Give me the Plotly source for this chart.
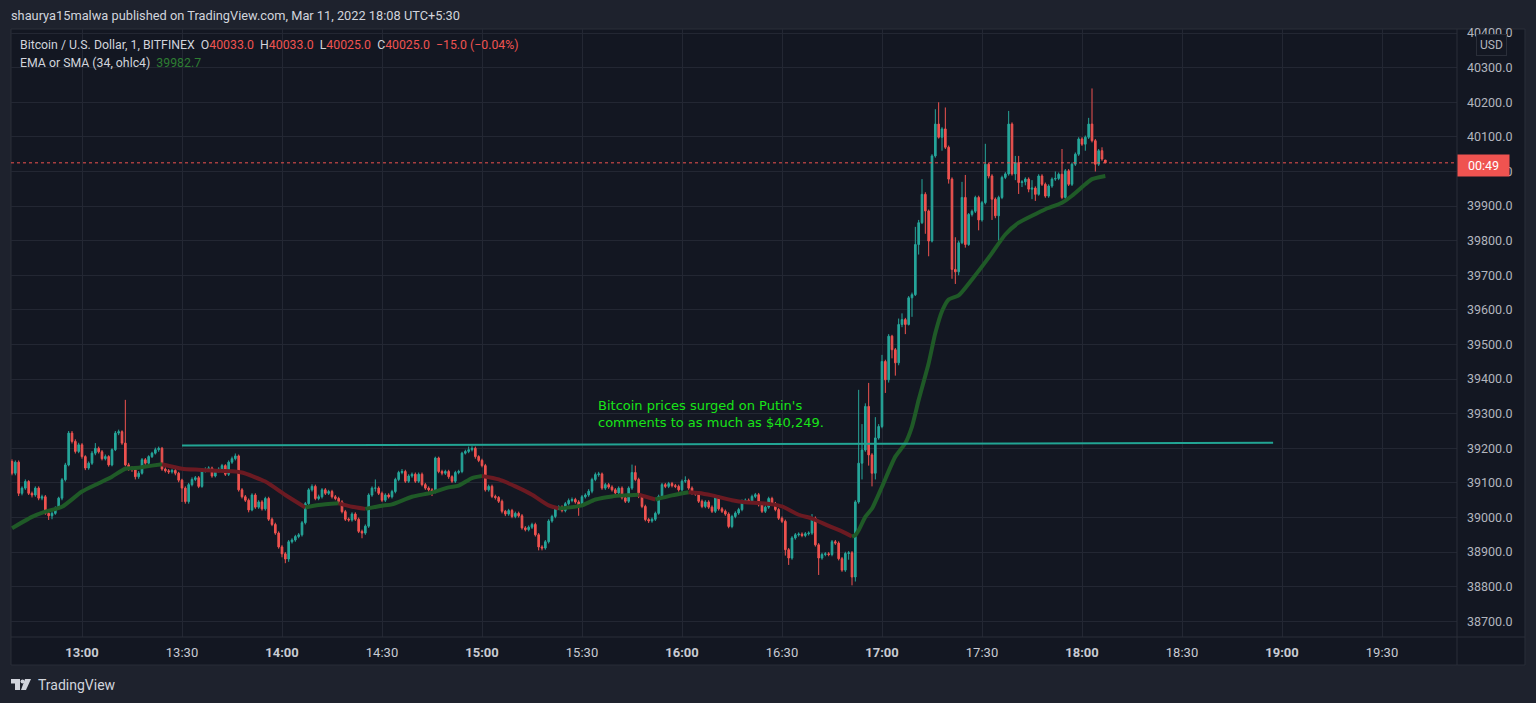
import pandas as pd
import plotly.graph_objects as go

# ---------------- DATA ----------------
start_time = "2022-03-11 12:39"

opens = [
    39162, 39128, 39160, 39070, 39085, 39104, 39070, 39065, 39085, 39056,
    39060, 39012, 39005, 39012, 39027, 39056, 39109, 39152, 39244, 39220,
    39191, 39210, 39176, 39143, 39157, 39186, 39200, 39190, 39170, 39176,
    39152, 39196, 39244, 39248, 39215, 39152, 39143, 39138, 39118, 39128,
    39167, 39157, 39176, 39186, 39196, 39200, 39140, 39135, 39132, 39136,
    39128, 39108, 39085, 39046, 39095, 39110, 39115, 39090, 39135, 39140,
    39143, 39120, 39135, 39140, 39150, 39125, 39160, 39170, 39178, 39080,
    39060, 39050, 39022, 39065, 39030, 39045, 39025, 39055, 38995, 38980,
    38955, 38915, 38895, 38880, 38930, 38935, 38945, 38950, 38985, 39040,
    39080, 39090, 39055, 39060, 39080, 39070, 39075, 39060, 39055, 39045,
    39017, 38995, 38993, 39010, 38995, 38960, 38955, 38975, 39065, 39085,
    39085, 39070, 39050, 39065, 39060, 39075, 39110, 39130, 39133, 39105,
    39120, 39125, 39105, 39125, 39095, 39085, 39080, 39075, 39172, 39133,
    39128, 39133, 39118, 39105, 39130, 39133, 39186, 39191, 39196, 39200,
    39176, 39165, 39150, 39080, 39090, 39061, 39058, 39047, 39018, 39010,
    39020, 39003, 39012, 39005, 38970, 38965, 38972, 38980, 38950, 38915,
    38912, 38930, 38990, 39003, 39028, 39030, 39020, 39040, 39049, 39052,
    39045, 39035, 39060, 39065, 39076, 39110, 39124, 39126, 39085, 39095,
    39088, 39080, 39071, 39085, 39057, 39047, 39085, 39130, 39110, 39061,
    39032, 38994, 38990, 38995, 39012, 39061, 39095, 39090, 39098, 39092,
    39090, 39080, 39105, 39107, 39085, 39071, 39068, 39047, 39032, 39045,
    39030, 39018, 39060, 39025, 39018, 39010, 38974, 39003, 39013, 39023,
    39047, 39050, 39045, 39061, 39066, 39037, 39018, 39030, 39055, 39040,
    39023, 38998, 38989, 38907, 38883, 38941, 38950, 38952, 38948, 38953,
    38955, 38998, 38921, 38883, 38893, 38895, 38893, 38930, 38926, 38881,
    38848, 38896, 38898, 38828, 39045, 39157, 39195, 39321, 39181, 39128,
    39230, 39263, 39451, 39398, 39524, 39485, 39447, 39558, 39572, 39558,
    39635, 39644, 39789, 39852, 39934, 39886, 39799, 40045, 40137, 40099,
    40123, 40070, 39978, 39717, 39710, 39794, 39925, 39789, 39876, 39885,
    39925, 39860, 39910, 40021, 39987, 39920, 39872, 39925, 39983, 39993,
    40137, 39993, 40026, 39968, 39970, 39978, 39949, 39952, 39934, 39987,
    39963, 39929, 39958, 39978, 39980, 39992, 39925, 40002, 39963, 40021,
    40050, 40094, 40079, 40099, 40137, 40089, 40021, 40060, 40033,
]

highs = [
    39168, 39165, 39165, 39090, 39110, 39108, 39075, 39090, 39090, 39066,
    39065, 39018, 39018, 39032, 39060, 39114, 39158, 39250, 39250, 39226,
    39216, 39215, 39180, 39162, 39192, 39215, 39205, 39195, 39182, 39180,
    39200, 39250, 39254, 39252, 39340, 39158, 39148, 39142, 39134, 39172,
    39172, 39180, 39190, 39202, 39205, 39204, 39145, 39140, 39141, 39141,
    39132, 39112, 39090, 39100, 39116, 39120, 39120, 39140, 39145, 39148,
    39147, 39140, 39145, 39155, 39154, 39165, 39176, 39185, 39182, 39085,
    39065, 39055, 39070, 39070, 39050, 39050, 39060, 39060, 39000, 38985,
    38960, 38920, 38900, 38935, 38940, 38950, 38955, 38990, 39045, 39085,
    39096, 39095, 39066, 39085, 39085, 39080, 39080, 39065, 39060, 39050,
    39022, 39000, 39015, 39015, 39000, 38965, 38980, 39070, 39090, 39110,
    39090, 39075, 39070, 39070, 39080, 39115, 39135, 39140, 39138, 39125,
    39130, 39130, 39130, 39130, 39100, 39090, 39085, 39176, 39176, 39138,
    39138, 39138, 39122, 39135, 39138, 39190, 39196, 39205, 39206, 39205,
    39180, 39170, 39155, 39095, 39095, 39066, 39062, 39052, 39022, 39025,
    39025, 39017, 39017, 39010, 38975, 38977, 38985, 38985, 38955, 38920,
    38935, 38995, 39008, 39033, 39035, 39035, 39045, 39055, 39058, 39057,
    39050, 39065, 39070, 39082, 39115, 39130, 39132, 39130, 39100, 39100,
    39093, 39085, 39090, 39090, 39062, 39090, 39153, 39150, 39115, 39066,
    39037, 38999, 39000, 39017, 39066, 39100, 39100, 39103, 39103, 39097,
    39095, 39110, 39119, 39112, 39090, 39076, 39073, 39052, 39050, 39050,
    39035, 39065, 39065, 39030, 39023, 39015, 39008, 39018, 39028, 39052,
    39055, 39055, 39066, 39071, 39071, 39042, 39035, 39060, 39060, 39045,
    39028, 39003, 38994, 38912, 38946, 38955, 38957, 38957, 38958, 38960,
    39010, 39003, 38926, 38898, 38900, 38900, 38935, 38935, 38931, 38886,
    38901, 38903, 38903, 39050, 39369, 39270, 39330, 39389, 39186, 39290,
    39270, 39470, 39456, 39530, 39528, 39490, 39575, 39590, 39577, 39640,
    39650, 39840, 39860, 39978, 39940, 39890, 40050, 40180, 40200, 40128,
    40185, 40075, 39983, 39810, 39800, 39970, 39990, 39880, 39890, 39930,
    39930, 39915, 40080, 40026, 39992, 39925, 39930, 39988, 39998, 40175,
    40142, 40045, 40045, 39975, 39983, 39983, 39975, 39957, 39992, 39992,
    39968, 39963, 39983, 40000, 39997, 40065, 40007, 40007, 40026, 40055,
    40099, 40099, 40104, 40155, 40240, 40094, 40065, 40070, 40033,
]

lows = [
    39122, 39122, 39062, 39064, 39080, 39065, 39058, 39060, 39050, 39050,
    39008, 38993, 38995, 39008, 39022, 39050, 39104, 39148, 39214, 39185,
    39186, 39170, 39137, 39138, 39152, 39180, 39185, 39165, 39165, 39147,
    39148, 39192, 39238, 39210, 39148, 39135, 39132, 39110, 39112, 39124,
    39152, 39152, 39172, 39182, 39190, 39135, 39130, 39126, 39127, 39122,
    39102, 39045, 39040, 39040, 39090, 39105, 39085, 39086, 39130, 39136,
    39115, 39116, 39130, 39135, 39120, 39120, 39155, 39165, 39075, 39055,
    39045, 39015, 39018, 39025, 39025, 39020, 39020, 38990, 38975, 38950,
    38910, 38885, 38868, 38872, 38925, 38930, 38940, 38945, 38980, 39035,
    39075, 39050, 39050, 39055, 39065, 39065, 39055, 39050, 39040, 39012,
    38990, 38988, 38988, 38990, 38955, 38940, 38950, 38970, 39060, 39075,
    39065, 39045, 39045, 39055, 39055, 39070, 39105, 39125, 39100, 39100,
    39115, 39100, 39100, 39090, 39080, 39075, 39062, 39070, 39128, 39122,
    39123, 39112, 39100, 39100, 39125, 39128, 39182, 39186, 39191, 39170,
    39160, 39145, 39075, 39075, 39056, 39052, 39042, 39012, 39004, 39005,
    38998, 38998, 39000, 38965, 38960, 38960, 38967, 38945, 38905, 38905,
    38907, 38925, 38985, 38998, 39022, 39015, 39015, 39035, 39044, 39040,
    39005, 39030, 39055, 39060, 39070, 39105, 39118, 39080, 39080, 39083,
    39075, 39066, 39066, 39052, 39042, 39042, 39080, 39105, 39056, 39027,
    38989, 38984, 38985, 38990, 39008, 39056, 39085, 39085, 39087, 39085,
    39075, 39075, 39100, 39080, 39066, 39063, 39042, 39027, 39027, 39025,
    39013, 39013, 39020, 39013, 39005, 38969, 38969, 38998, 39008, 39018,
    39042, 39040, 39040, 39056, 39032, 39013, 39013, 39025, 39035, 39018,
    38993, 38984, 38890, 38863, 38878, 38936, 38945, 38943, 38943, 38948,
    38950, 38916, 38834, 38878, 38888, 38888, 38888, 38921, 38876, 38843,
    38843, 38878, 38804, 38815, 39040, 39110, 39190, 39150, 39090, 39110,
    39225, 39258, 39360, 39390, 39460, 39410, 39440, 39550, 39530, 39555,
    39580, 39640, 39760, 39848, 39820, 39755, 39795, 40040, 40095, 40060,
    40065, 39965, 39690, 39675, 39700, 39790, 39780, 39785, 39870, 39880,
    39830, 39855, 39905, 39980, 39860, 39865, 39800, 39920, 39978, 39988,
    39988, 39975, 39935, 39955, 39960, 39940, 39920, 39915, 39930, 39958,
    39924, 39924, 39953, 39973, 39975, 39920, 39920, 39958, 39958, 40016,
    40045, 40074, 40060, 40094, 40084, 40000, 40016, 40031, 40025,
]

closes = [
    39128, 39160, 39070, 39085, 39104, 39070, 39065, 39085, 39056, 39060,
    39012, 39005, 39012, 39027, 39056, 39109, 39152, 39244, 39220, 39191,
    39210, 39176, 39143, 39157, 39186, 39200, 39190, 39170, 39176, 39152,
    39196, 39244, 39248, 39215, 39152, 39143, 39138, 39118, 39128, 39167,
    39157, 39176, 39186, 39196, 39200, 39140, 39135, 39132, 39136, 39128,
    39108, 39085, 39046, 39095, 39110, 39115, 39090, 39135, 39140, 39143,
    39120, 39135, 39140, 39150, 39125, 39160, 39170, 39178, 39080, 39060,
    39050, 39022, 39065, 39030, 39045, 39025, 39055, 38995, 38980, 38955,
    38915, 38895, 38880, 38930, 38935, 38945, 38950, 38985, 39040, 39080,
    39090, 39055, 39060, 39080, 39070, 39075, 39060, 39055, 39045, 39017,
    38995, 38993, 39010, 38995, 38960, 38955, 38975, 39065, 39085, 39085,
    39070, 39050, 39065, 39060, 39075, 39110, 39130, 39133, 39105, 39120,
    39125, 39105, 39125, 39095, 39085, 39080, 39075, 39172, 39133, 39128,
    39133, 39118, 39105, 39130, 39133, 39186, 39191, 39196, 39200, 39176,
    39165, 39150, 39080, 39090, 39061, 39058, 39047, 39018, 39010, 39020,
    39003, 39012, 39005, 38970, 38965, 38972, 38980, 38950, 38915, 38912,
    38930, 38990, 39003, 39028, 39030, 39020, 39040, 39049, 39052, 39045,
    39035, 39060, 39065, 39076, 39110, 39124, 39126, 39085, 39095, 39088,
    39080, 39071, 39085, 39057, 39047, 39085, 39130, 39110, 39061, 39032,
    38994, 38990, 38995, 39012, 39061, 39095, 39090, 39098, 39092, 39090,
    39080, 39105, 39107, 39085, 39071, 39068, 39047, 39032, 39045, 39030,
    39018, 39060, 39025, 39018, 39010, 38974, 39003, 39013, 39023, 39047,
    39050, 39045, 39061, 39066, 39037, 39018, 39030, 39055, 39040, 39023,
    38998, 38989, 38907, 38883, 38941, 38950, 38952, 38948, 38953, 38955,
    38998, 38921, 38883, 38893, 38895, 38893, 38930, 38926, 38881, 38848,
    38896, 38898, 38828, 39045, 39157, 39195, 39321, 39181, 39128, 39230,
    39263, 39451, 39398, 39524, 39485, 39447, 39558, 39572, 39558, 39635,
    39644, 39789, 39852, 39934, 39886, 39799, 40045, 40137, 40099, 40123,
    40070, 39978, 39717, 39710, 39794, 39925, 39789, 39876, 39885, 39925,
    39860, 39910, 40021, 39987, 39920, 39872, 39925, 39983, 39993, 40137,
    39993, 40026, 39968, 39970, 39978, 39949, 39952, 39934, 39987, 39963,
    39929, 39958, 39978, 39980, 39992, 39925, 40002, 39963, 40021, 40050,
    40094, 40079, 40099, 40137, 40089, 40021, 40060, 40036, 40025,
]

# EMA (34, ohlc4): minutes after 13:00 and value
ema_minutes = [-21, -15, -11, -6, 0, 5, 9, 13, 17, 21, 24, 30, 35, 39, 45, 48,
               55, 61, 67, 71, 77, 81, 85, 90, 93, 99, 105, 110, 113, 117, 120,
               125, 130, 135, 140, 143, 147, 150, 154, 159, 163, 167, 172, 177,
               182, 185, 189, 195, 199, 203, 207, 210, 215, 219, 224, 228, 231,
               232, 233, 235, 237, 240, 244, 247, 249, 251, 254, 256, 258, 260,
               263, 267, 272, 277, 281, 285, 289, 294, 297, 301, 303, 307]
ema_values = [38969, 39002, 39017, 39031, 39075, 39099, 39118, 39141, 39144,
              39150, 39154, 39141, 39138, 39136, 39134, 39130, 39104, 39065,
              39029, 39036, 39041, 39031, 39025, 39034, 39038, 39060, 39072,
              39087, 39092, 39114, 39120, 39110, 39090, 39066, 39035, 39026,
              39030, 39035, 39052, 39061, 39064, 39066, 39052, 39064, 39073,
              39071, 39064, 39050, 39044, 39042, 39038, 39032, 39008, 38997,
              38976, 38960, 38945, 38949, 38963, 39002, 39026, 39089, 39176,
              39215, 39263, 39340, 39446, 39533, 39596, 39630, 39642, 39688,
              39751, 39818, 39852, 39872, 39891, 39910, 39930, 39963, 39978,
              39987]

# drawn trend line (time, price)
trend_times = ["2022-03-11 13:30:00", "2022-03-11 18:57:20"]
trend_prices = [39208, 39216]

last_price = 40025
y_ticks = list(range(38700, 40401, 100))
x_tick_times = ["13:00", "13:30", "14:00", "14:30", "15:00", "15:30", "16:00",
                "16:30", "17:00", "17:30", "18:00", "18:30", "19:00", "19:30"]

assert len(opens) == len(highs) == len(lows) == len(closes)

# ---------------- STYLE ----------------
OUTER = "#1e222d"
PANEL = "#131722"
GRID = "#232733"
BORDER = "#2a2e39"
UP = "#26a69a"
DOWN = "#ef5350"
TXT = "#d1d4dc"
AX = "#b2b5be"

times = pd.date_range(start_time, periods=len(closes), freq="min")
base = pd.Timestamp("2022-03-11 13:00")

fig = go.Figure()

fig.add_shape(type="rect", xref="paper", yref="paper", x0=0, x1=1.0470,
              y0=-0.0461, y1=1.0, fillcolor=PANEL, line=dict(color=BORDER, width=1),
              layer="below")

fig.add_trace(go.Candlestick(
    x=times, open=opens, high=highs, low=lows, close=closes,
    increasing=dict(line=dict(color=UP, width=1), fillcolor=UP),
    decreasing=dict(line=dict(color=DOWN, width=1), fillcolor=DOWN),
    whiskerwidth=0, showlegend=False, hoverinfo="skip",
))

# EMA coloured by slope
ema_t = [base + pd.Timedelta(minutes=m) for m in ema_minutes]
GREEN_L = "#1f5a27"
RED_L = "#6b1a22"
def col(k):
    return GREEN_L if ema_values[k + 1] >= ema_values[k] else RED_L
i = 0
n = len(ema_values)
while i < n - 1:
    c = col(i)
    j = i
    while j < n - 1 and col(j) == c:
        j += 1
    fig.add_trace(go.Scatter(
        x=ema_t[i:j + 1], y=ema_values[i:j + 1], mode="lines",
        line=dict(color=c, width=4, shape="spline", smoothing=0.6),
        showlegend=False, hoverinfo="skip"))
    i = j

fig.add_trace(go.Scatter(x=[pd.Timestamp(t) for t in trend_times], y=trend_prices,
                         mode="lines", line=dict(color="#22a594", width=2),
                         showlegend=False, hoverinfo="skip"))

fig.add_shape(type="line", xref="paper", yref="y", x0=0, x1=1, y0=last_price,
              y1=last_price, line=dict(color=DOWN, width=1, dash="dot"))

fig.add_shape(type="line", xref="paper", yref="paper", x0=1, x1=1, y0=-0.0461,
              y1=1.0, line=dict(color=BORDER, width=1))
fig.add_shape(type="line", xref="paper", yref="paper", x0=0, x1=1.047, y0=0,
              y1=0, line=dict(color=BORDER, width=1))

x_range = [base - pd.Timedelta(minutes=21.3), base + pd.Timedelta(minutes=412.5)]
tickvals = [pd.Timestamp("2022-03-11 " + t) for t in x_tick_times]
ticktext = [("<b>%s</b>" % t) if t.endswith(":00") else t for t in x_tick_times]

fig.update_xaxes(
    type="date", range=x_range, tickvals=tickvals, ticktext=ticktext,
    showgrid=True, gridcolor=GRID, gridwidth=1, zeroline=False,
    rangeslider=dict(visible=False), showline=False,
    tickfont=dict(family="Roboto", size=13, color="#c8cbd3"),
    ticklabelstandoff=6, fixedrange=True,
)
fig.update_yaxes(
    side="right", range=[38654.7, 40411.8], tickvals=y_ticks,
    ticktext=["%.1f" % v for v in y_ticks], showgrid=True, gridcolor=GRID,
    zeroline=False, showline=False,
    tickfont=dict(family="Roboto", size=12.5, color=AX),
    ticklabelstandoff=9, fixedrange=True,
)

annotations = [
    dict(text="shaurya15malwa published on TradingView.com, Mar 11, 2022 18:08 UTC+5:30",
         xref="paper", yref="paper", x=-0.0015, y=1.0214, xanchor="left", yanchor="middle",
         showarrow=False, font=dict(family="Roboto", size=12.8, color=TXT)),
    dict(text=("Bitcoin / U.S. Dollar, 1, BITFINEX&nbsp;&nbsp;"
               "O<span style='color:#ef5350'>40033.0</span>&nbsp;&nbsp;"
               "H<span style='color:#ef5350'>40033.0</span>&nbsp;&nbsp;"
               "L<span style='color:#ef5350'>40025.0</span>&nbsp;&nbsp;"
               "C<span style='color:#ef5350'>40025.0</span>&nbsp;&nbsp;"
               "<span style='color:#ef5350'>\u221215.0 (\u22120.04%)</span>"),
         xref="paper", yref="paper", x=0.0045, y=0.9737, xanchor="left",
         yanchor="middle", showarrow=False,
         font=dict(family="Roboto", size=12.3, color=TXT)),
    dict(text="EMA or SMA (34, ohlc4)&nbsp;&nbsp;<span style='color:#2e7d32'>39982.7</span>",
         xref="paper", yref="paper", x=0.0045, y=0.944, xanchor="left",
         yanchor="middle", showarrow=False,
         font=dict(family="Roboto", size=12.3, color=TXT)),
    dict(text="Bitcoin prices surged on Putin's<br>comments to as much as $40,249.",
         xref="paper", yref="paper", x=0.4045, y=0.3668, xanchor="left",
         yanchor="middle", align="left", showarrow=False,
         font=dict(family="DejaVu Sans", size=13, color="#18e418")),
    dict(text="USD", xref="paper", yref="paper", x=1.0242, y=0.973,
         xanchor="center", yanchor="middle", showarrow=False,
         font=dict(family="Roboto", size=12, color=AX), bgcolor=PANEL,
         bordercolor=BORDER, borderwidth=1, borderpad=3),
    dict(text="00:49", xref="paper", yref="paper", x=1.0, y=0.7747,
         xanchor="left", yanchor="middle", showarrow=False,
         font=dict(family="Roboto", size=12.5, color="#ffffff"), bgcolor=DOWN,
         borderpad=3, width=45),
    dict(text="TradingView", xref="paper", yref="paper", x=0.0173, y=-0.0789,
         xanchor="left", yanchor="middle", showarrow=False,
         font=dict(family="Roboto", size=14, color=TXT)),
]
fig.update_layout(annotations=annotations)

def px(x):
    return (x - 11) / 1446.0
def py(y):
    return (637 - y) / 608.0
logo_col = "#d1d4dc"
fig.add_shape(type="rect", xref="paper", yref="paper", x0=px(11), x1=px(20),
              y0=py(683.5), y1=py(679), fillcolor=logo_col, line=dict(width=0))
fig.add_shape(type="rect", xref="paper", yref="paper", x0=px(15), x1=px(20),
              y0=py(690), y1=py(679), fillcolor=logo_col, line=dict(width=0))
fig.add_shape(type="circle", xref="paper", yref="paper", x0=px(20.5), x1=px(24.5),
              y0=py(683.5), y1=py(679.5), fillcolor=logo_col, line=dict(width=0))
fig.add_shape(type="path", xref="paper", yref="paper",
              path="M %f %f L %f %f L %f %f L %f %f Z" % (
                  px(25), py(679), px(31), py(679), px(26), py(690), px(21), py(690)),
              fillcolor=logo_col, line=dict(width=0))

fig.update_layout(
    width=1536, height=703,
    margin=dict(l=11, r=79, t=29, b=66),
    paper_bgcolor=OUTER, plot_bgcolor=PANEL,
    showlegend=False, hovermode=False, dragmode=False,
)

fig.write_html(
    "out.html",
    config={"displayModeBar": False},
    post_script="document.body.style.margin='0';document.body.style.overflow='hidden';",
)
